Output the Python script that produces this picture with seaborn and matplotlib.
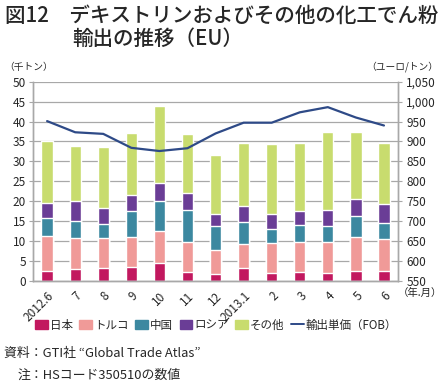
import numpy as np
import pandas as pd
import matplotlib
matplotlib.use("Agg")
import matplotlib.pyplot as plt
import seaborn as sns
from matplotlib.patches import Patch
from matplotlib.lines import Line2D

# data (thousand tonnes, euro/tonne)
months = ["2012.6", "7", "8", "9", "10", "11", "12", "2013.1", "2", "3", "4", "5", "6"]
japan = [2.5, 3.0, 3.2, 3.5, 4.6, 2.3, 1.7, 3.3, 2.0, 2.3, 2.0, 2.5, 2.5]
turkey = [8.7, 7.7, 7.7, 7.5, 7.9, 7.5, 6.2, 6.0, 7.5, 7.5, 7.8, 8.6, 8.0]
china = [4.5, 4.4, 3.5, 6.6, 7.6, 7.9, 5.9, 5.6, 3.5, 4.2, 4.1, 5.3, 4.0]
russia = [3.9, 5.0, 4.0, 4.0, 4.5, 4.3, 3.1, 3.9, 3.7, 3.5, 4.0, 4.2, 4.7]
other = [15.5, 13.8, 15.2, 15.4, 19.4, 14.8, 14.6, 15.8, 17.7, 17.2, 19.4, 16.8, 15.4]
price = [951, 923, 919, 884, 876, 883, 920, 947, 947, 973, 986, 960, 940]

series_names = ["日本", "トルコ", "中国", "ロシア", "その他"]
colors = ["#C2185F", "#F09A98", "#3C88A0", "#6A3D96", "#C8DC6E"]
line_color = "#2E4A87"
grid_color = "#A8A8A8"

df = pd.DataFrame({"month": months, "日本": japan, "トルコ": turkey,
                   "中国": china, "ロシア": russia, "その他": other})

sns.set_style("white")
plt.rcParams['font.family'] = ['Noto Sans CJK JP', 'DejaVu Sans']

fig = plt.figure(figsize=(4.41, 3.85), dpi=100)
ax = fig.add_axes([0.075, 0.27, 0.8275, 0.518])

# stacked bars: draw cumulative totals from the top segment down
cum = df[series_names].cumsum(axis=1)
for name, c in reversed(list(zip(series_names, colors))):
    sns.barplot(x=df["month"], y=cum[name], color=c, width=0.4,
                saturation=1, ax=ax, zorder=2)

ax.set_ylim(0, 50)
ax.set_yticks(np.arange(0, 51, 5))
ax.yaxis.grid(True, color=grid_color, lw=0.9)
ax.set_axisbelow(True)
ax.set_xlabel("")
ax.set_ylabel("")

ax2 = ax.twinx()
sns.lineplot(x=np.arange(len(months)), y=price, color=line_color, lw=1.6, ax=ax2)
ax2.set_ylim(550, 1050)
ax2.set_yticks(np.arange(550, 1051, 50))
ax2.set_yticklabels([f"{v:,}" for v in range(550, 1051, 50)])
ax2.set_ylabel("")

ax.set_xlim(-0.5, 12.5)
ax.set_xticks(np.arange(len(months)))
ax.set_xticklabels(months, rotation=45, ha="right", rotation_mode="anchor")
ax.set_xticks(np.arange(-0.5, 13, 1), minor=True)
ax.tick_params(axis="x", which="major", length=0, pad=6, labelsize=8.5)
ax.tick_params(axis="x", which="minor", length=4, color=grid_color, width=0.9, direction="out")
ax.tick_params(axis="y", length=3, color=grid_color, labelsize=8.5, pad=2, left=True)
ax2.tick_params(axis="y", length=3, color=grid_color, labelsize=8.5, pad=3, right=True)

for a in (ax, ax2):
    a.spines["top"].set_visible(False)
    for s in ("left", "right", "bottom"):
        a.spines[s].set_color(grid_color)
        a.spines[s].set_linewidth(1.0)

# titles and notes
fig.text(5 / 441, 1 - 16 / 385, "図12　デキストリンおよびその他の化工でん粉",
         fontsize=14.8, fontweight="medium", va="center", ha="left")
fig.text(72 / 441, 1 - 39 / 385, "輸出の推移（EU）",
         fontsize=14.8, fontweight="medium", va="center", ha="left")
fig.text(4 / 441, 1 - 67 / 385, "（千トン）", fontsize=7, va="center", ha="left")
fig.text(438 / 441, 1 - 67 / 385, "（ユーロ/トン）", fontsize=7, va="center", ha="right")
fig.text(398 / 441, 1 - 293 / 385, "（年.月）", fontsize=7.5, va="center", ha="left")

handles = [Patch(color=c, label=n) for n, c in zip(series_names, colors)]
handles.append(Line2D([], [], color=line_color, lw=1.4, label="輸出単価（FOB）"))
fig.legend(handles=handles, loc="center", bbox_to_anchor=(0.49, 1 - 325 / 385),
           ncol=6, frameon=False, fontsize=8.3, handlelength=1.1, handleheight=0.7,
           handletextpad=0.15, columnspacing=0.6)

fig.text(4 / 441, 1 - 353 / 385, "資料：GTI社 “Global Trade Atlas”", fontsize=9.3, va="center", ha="left")
fig.text(18 / 441, 1 - 375 / 385, "注：HSコード350510の数値", fontsize=9.3, va="center", ha="left")

fig.savefig("out.png", dpi=100)
